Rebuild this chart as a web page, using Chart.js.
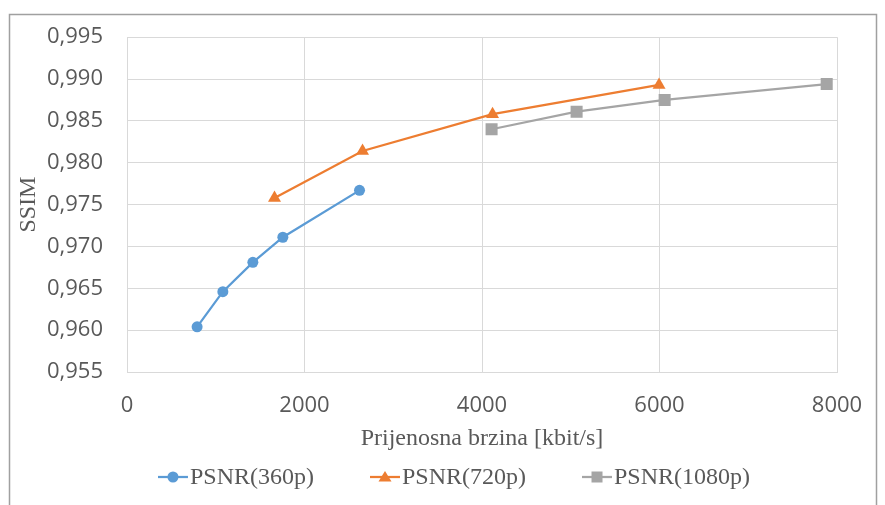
<!DOCTYPE html>
<html>
<head>
<meta charset="utf-8">
<script src="https://cdn.jsdelivr.net/npm/chart.js@4"></script>
<style>
  html, body { margin: 0; padding: 0; background: #fff; }
  canvas { display: block; }
</style>
</head>
<body>
<canvas id="chart_ssim" width="885" height="505"></canvas>
<script>
// bitrate [kbit/s] and SSIM per resolution
const bitrate360 = [790, 1080, 1418, 1756, 2620];
const ssim360 = [0.9604, 0.9646, 0.9681, 0.9711, 0.9767];
const bitrate720 = [1662, 2654, 4119, 5995];
const ssim720 = [0.9758, 0.9814, 0.9858, 0.9893];
const bitrate1080 = [4108, 5066, 6058, 7884];
const ssim1080 = [0.9840, 0.9861, 0.9875, 0.9894];

const seriesNames = ['PSNR(360p)', 'PSNR(720p)', 'PSNR(1080p)'];
const seriesColors = ['#5B9BD5', '#ED7D31', '#A5A5A5'];
const xTicks = [0, 2000, 4000, 6000, 8000];

const gridColor = '#D9D9D9';
const textColor = '#595959';
const serif = 'Liberation Serif, Times New Roman, serif';

function toPoints(xs, ys) {
  return xs.map((x, i) => ({ x: x, y: ys[i] }));
}

// background + outer frame (no bottom edge, like the crop)
const framePlugin = {
  id: 'frame',
  beforeDraw(chart) {
    const ctx = chart.ctx;
    ctx.save();
    ctx.fillStyle = '#fff';
    ctx.fillRect(0, 0, chart.width, chart.height);
    ctx.strokeStyle = '#a0a0a0';
    ctx.lineWidth = 1.5;
    ctx.beginPath();
    ctx.moveTo(9.5, chart.height);
    ctx.lineTo(9.5, 14.5);
    ctx.lineTo(876.5, 14.5);
    ctx.lineTo(876.5, chart.height);
    ctx.stroke();
    ctx.restore();
  }
};

// Excel-like legend: line with marker, then the label
const legendPlugin = {
  id: 'lineLegend',
  afterDraw(chart) {
    const ctx = chart.ctx;
    const lineLen = 30, gap = 2, spacing = 56, y = 477;
    ctx.save();
    ctx.font = '24px ' + serif;
    const widths = chart.data.datasets.map(ds => lineLen + gap + ctx.measureText(ds.label).width);
    const total = widths.reduce((a, b) => a + b, 0) + spacing * (widths.length - 1);
    let x = 454 - total / 2;
    chart.data.datasets.forEach((ds, i) => {
      ctx.strokeStyle = ds.borderColor;
      ctx.lineWidth = 2.25;
      ctx.beginPath();
      ctx.moveTo(x, y);
      ctx.lineTo(x + lineLen, y);
      ctx.stroke();
      ctx.fillStyle = ds.borderColor;
      const cx = x + lineLen / 2;
      ctx.beginPath();
      if (ds.pointStyle === 'circle') {
        ctx.arc(cx, y, 5.5, 0, Math.PI * 2);
      } else if (ds.pointStyle === 'triangle') {
        ctx.moveTo(cx, y - 6);
        ctx.lineTo(cx + 6.5, y + 4.5);
        ctx.lineTo(cx - 6.5, y + 4.5);
        ctx.closePath();
      } else {
        ctx.rect(cx - 5.5, y - 5.5, 11, 11);
      }
      ctx.fill();
      ctx.fillStyle = textColor;
      ctx.textBaseline = 'middle';
      ctx.textAlign = 'left';
      ctx.fillText(ds.label, x + lineLen + gap, y + 1);
      x += widths[i] + spacing;
    });
    ctx.restore();
  }
};

const ctx = document.getElementById('chart_ssim');

new Chart(ctx, {
  type: 'line',
  data: {
    datasets: [
      {
        label: seriesNames[0],
        data: toPoints(bitrate360, ssim360),
        borderColor: seriesColors[0],
        backgroundColor: seriesColors[0],
        pointStyle: 'circle',
        pointRadius: 5.5
      },
      {
        label: seriesNames[1],
        data: toPoints(bitrate720, ssim720),
        borderColor: seriesColors[1],
        backgroundColor: seriesColors[1],
        pointStyle: 'triangle',
        pointRadius: 7.5
      },
      {
        label: seriesNames[2],
        data: toPoints(bitrate1080, ssim1080),
        borderColor: seriesColors[2],
        backgroundColor: seriesColors[2],
        pointStyle: 'rect',
        pointRadius: 8.5
      }
    ].map(ds => Object.assign(ds, { borderWidth: 2.25, pointBorderWidth: 0, tension: 0, fill: false }))
  },
  options: {
    responsive: false,
    animation: false,
    devicePixelRatio: 1,
    layout: { padding: { top: 36, right: 48, bottom: 52, left: 0 } },
    scales: {
      x: {
        type: 'linear',
        min: 0,
        max: 8000,
        afterBuildTicks(scale) {
          scale.ticks = xTicks.map(v => ({ value: v }));
        },
        afterFit(scale) { scale.height = 81; },
        grid: { color: gridColor, lineWidth: 1, drawTicks: false },
        border: { color: gridColor },
        ticks: {
          padding: 21,
          color: textColor,
          font: { family: 'Open Sans', size: 22 },
          callback: v => String(v)
        },
        title: {
          display: true,
          text: 'Prijenosna brzina [kbit/s]',
          color: textColor,
          font: { family: serif, size: 24 },
          padding: { top: 0, bottom: 0 }
        }
      },
      y: {
        min: 0.955,
        max: 0.995,
        afterFit(scale) { scale.width = 127; },
        grid: { color: gridColor, lineWidth: 1, drawTicks: false },
        border: { color: gridColor },
        ticks: {
          stepSize: 0.005,
          padding: 24,
          color: textColor,
          font: { family: 'Open Sans', size: 22 },
          callback: v => v.toFixed(3).replace('.', ',')
        },
        title: {
          display: true,
          text: 'SSIM',
          color: textColor,
          font: { family: serif, size: 24 },
          padding: { top: 14, bottom: 0 }
        }
      }
    },
    plugins: {
      legend: { display: false },
      tooltip: { enabled: false }
    }
  },
  plugins: [framePlugin, legendPlugin]
});
</script>
</body>
</html>
